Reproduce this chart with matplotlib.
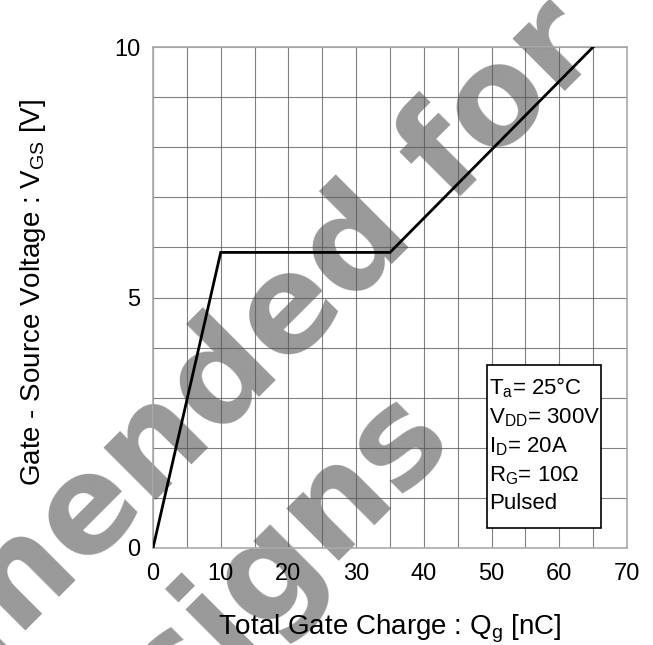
import matplotlib
matplotlib.use("Agg")
import matplotlib.pyplot as plt
import numpy as np
from matplotlib.patches import Rectangle

plt.rcParams['font.family'] = ['Liberation Sans', 'DejaVu Sans']
plt.rcParams['mathtext.fontset'] = 'custom'
plt.rcParams['mathtext.rm'] = 'Liberation Sans'

# data
qg = [0, 10, 35, 65]          # nC
vgs = [0, 5.9, 5.9, 10]       # V
xticks = [0, 10, 20, 30, 40, 50, 60, 70]
yticks = [0, 5, 10]
xminor = [5, 15, 25, 35, 45, 55, 65]
yminor = [1, 2, 3, 4, 6, 7, 8, 9]
conditions = [r'T$_\mathregular{a}$= 25°C', r'V$_\mathregular{DD}$= 300V',
              r'I$_\mathregular{D}$= 20A', r'R$_\mathregular{G}$= 10Ω', 'Pulsed']
watermark = ['Not Recommended for', 'New Designs']

W, H = 653, 645
fig = plt.figure(figsize=(W / 100, H / 100), dpi=100)
ax = fig.add_axes([153 / W, (H - 548) / H, (627 - 153) / W, (548 - 47) / H])
ax.set_facecolor('none')

# watermark beneath axes
for txt, (px, py) in zip(watermark, [(604, 52), (456, 444)]):
    fig.text(px / W, (H - py) / H, txt, rotation=45, rotation_mode='anchor',
             ha='right', va='baseline', fontsize=97, fontweight='bold',
             family='DejaVu Sans', color='#999999', zorder=-5)

ax.plot(qg, vgs, color='black', lw=2.0, zorder=5, solid_joinstyle='miter')

ax.set_xlim(0, 70)
ax.set_ylim(0, 10)
ax.set_xticks(xticks)
ax.set_yticks(yticks)
ax.set_xticks(xminor, minor=True)
ax.set_yticks(yminor, minor=True)
ax.grid(True, which='both', color='#555555', lw=0.8, alpha=0.75)
ax.tick_params(which='both', length=0, labelsize=17, colors='black')
ax.tick_params(axis='x', pad=11)
ax.tick_params(axis='y', pad=9)
for s in ax.spines.values():
    s.set_color('#aaaaaa')
    s.set_linewidth(1.2)

ax.set_xlabel(r'Total Gate Charge : Q$_\mathregular{g}$ [nC]', fontsize=20, va='top')
ax.xaxis.set_label_coords(0.5, (548 - 612) / 501)
ax.set_ylabel(r'Gate - Source Voltage : V$_\mathregular{GS}$ [V]', fontsize=20)
ax.yaxis.set_label_coords((48 - 153) / 474, 0.5 + (548 - 292 - 250.5) / 501)

# condition box
ax.add_patch(Rectangle(((487 - 153) / 474, (548 - 528) / 501), (601 - 487) / 474, (528 - 365) / 501,
                       transform=ax.transAxes, facecolor='white', edgecolor='black', lw=1.2, zorder=6))
ax.text((489 - 153) / 474, (548 - 445) / 501, '\n'.join(conditions), transform=ax.transAxes,
        ha='left', va='center', fontsize=16, linespacing=1.38, zorder=7)

fig.savefig('out.png', dpi=100)
